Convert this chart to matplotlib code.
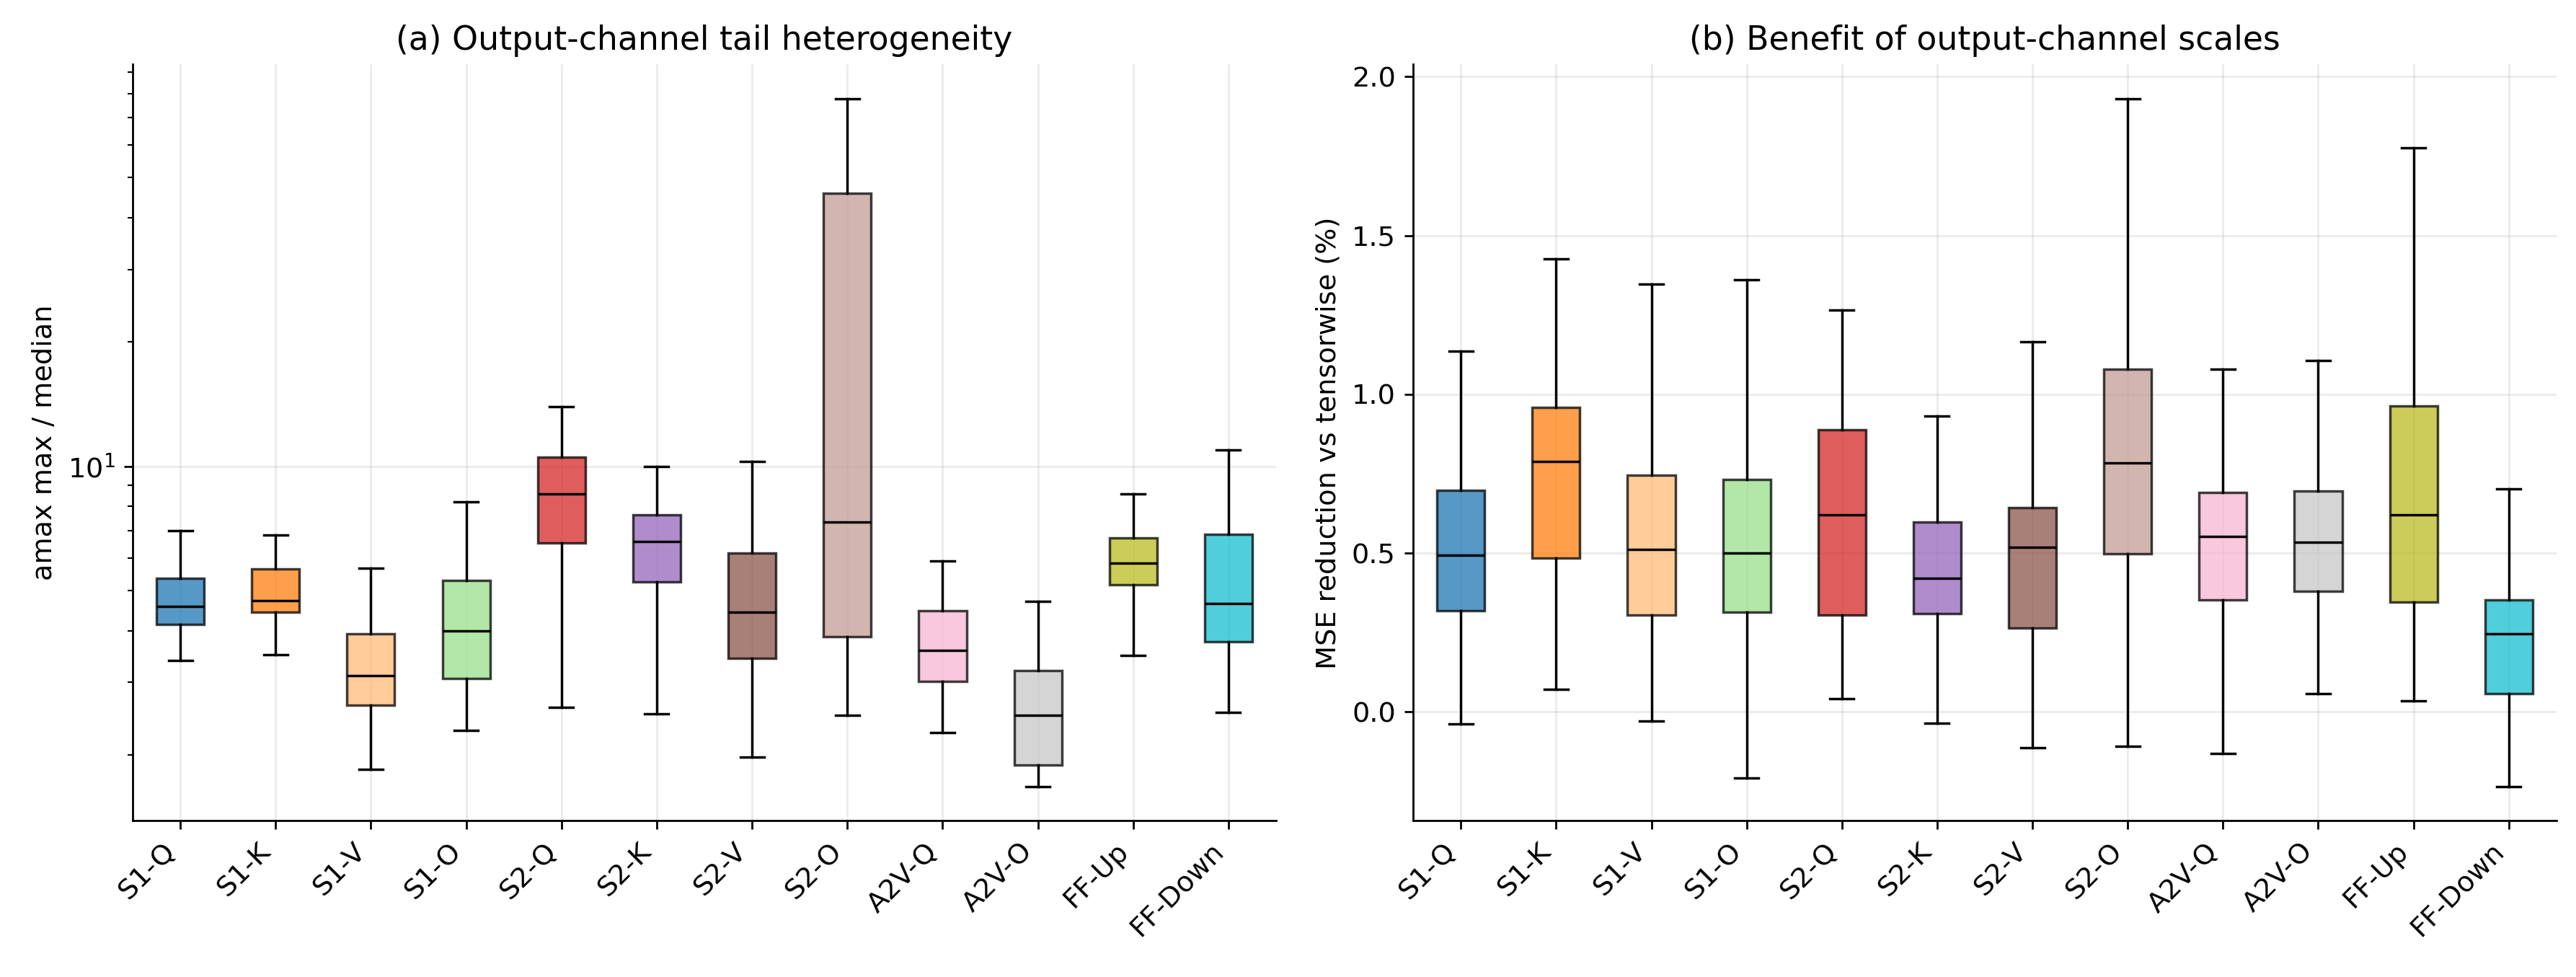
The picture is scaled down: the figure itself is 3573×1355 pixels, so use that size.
import numpy as np
from matplotlib import pyplot as plt

plt.rcParams["font.size"] = 11

labels = ["S1-Q", "S1-K", "S1-V", "S1-O", "S2-Q", "S2-K", "S2-V", "S2-O",
          "A2V-Q", "A2V-O", "FF-Up", "FF-Down"]

# (a) amax max / median, per projection
tail_lo = [3.39, 3.50, 1.85, 2.29, 2.61, 2.52, 1.98, 2.50, 2.27, 1.68, 3.48, 2.54]
tail_q1 = [4.15, 4.44, 2.64, 3.07, 6.52, 5.26, 3.43, 3.87, 3.02, 1.89, 5.17, 3.76]
tail_med = [4.59, 4.74, 3.12, 4.00, 8.59, 6.57, 4.44, 7.33, 3.59, 2.50, 5.84, 4.66]
tail_q3 = [5.36, 5.64, 3.93, 5.29, 10.52, 7.63, 6.16, 45.9, 4.47, 3.20, 6.72, 6.85]
tail_hi = [6.99, 6.81, 5.66, 8.21, 13.94, 10.0, 10.26, 77.6, 5.90, 4.71, 8.59, 10.94]

# (b) MSE reduction vs tensorwise (%)
mse_lo = [-0.037, 0.072, -0.029, -0.208, 0.041, -0.035, -0.113, -0.108, -0.130, 0.057, 0.035, -0.234]
mse_q1 = [0.318, 0.484, 0.305, 0.315, 0.305, 0.310, 0.264, 0.498, 0.353, 0.380, 0.347, 0.057]
mse_med = [0.493, 0.789, 0.512, 0.500, 0.621, 0.420, 0.519, 0.783, 0.552, 0.535, 0.621, 0.245]
mse_q3 = [0.698, 0.959, 0.745, 0.732, 0.889, 0.598, 0.644, 1.080, 0.692, 0.695, 0.964, 0.353]
mse_hi = [1.136, 1.426, 1.348, 1.360, 1.265, 0.931, 1.166, 1.930, 1.080, 1.106, 1.777, 0.703]

colors = ["#1f77b4", "#ff7f0e", "#ffbb78", "#98df8a", "#d62728", "#9467bd",
          "#8c564b", "#c49c94", "#f7b6d2", "#c7c7c7", "#bcbd22", "#17becf"]


def make_stats(lo, q1, med, q3, hi):
    stats = []
    for i in range(len(labels)):
        stats.append({"label": labels[i], "whislo": lo[i], "q1": q1[i], "med": med[i],
                      "q3": q3[i], "whishi": hi[i], "fliers": []})
    return stats


def draw_boxes(ax, stats):
    bp = ax.bxp(stats, positions=np.arange(1, len(stats) + 1), widths=0.5,
                patch_artist=True, showfliers=False,
                medianprops={"color": "black", "linewidth": 1.0})
    for patch, c in zip(bp["boxes"], colors):
        patch.set_facecolor(c)
        patch.set_edgecolor("black")
        patch.set_linewidth(1.0)
        patch.set_alpha(0.75)
    ax.grid(True, alpha=0.25)
    ax.set_axisbelow(True)
    ax.spines["top"].set_visible(False)
    ax.spines["right"].set_visible(False)
    plt.setp(ax.get_xticklabels(), rotation=45, ha="right")


fig = plt.figure(figsize=(14.292, 5.42), dpi=250)
ax1 = fig.add_axes([0.0515, 0.160, 0.4439, 0.774])
ax2 = fig.add_axes([0.5486, 0.160, 0.4438, 0.774])

draw_boxes(ax1, make_stats(tail_lo, tail_q1, tail_med, tail_q3, tail_hi))
ax1.set_yscale("log")
ax1.set_ylabel("amax max / median")
ax1.set_title("(a) Output-channel tail heterogeneity")
plt.setp(ax1.get_xticklabels(), rotation=45, ha="right")

draw_boxes(ax2, make_stats(mse_lo, mse_q1, mse_med, mse_q3, mse_hi))
ax2.set_ylabel("MSE reduction vs tensorwise (%)")
ax2.set_title("(b) Benefit of output-channel scales")

fig.savefig("out.png", dpi=250)
